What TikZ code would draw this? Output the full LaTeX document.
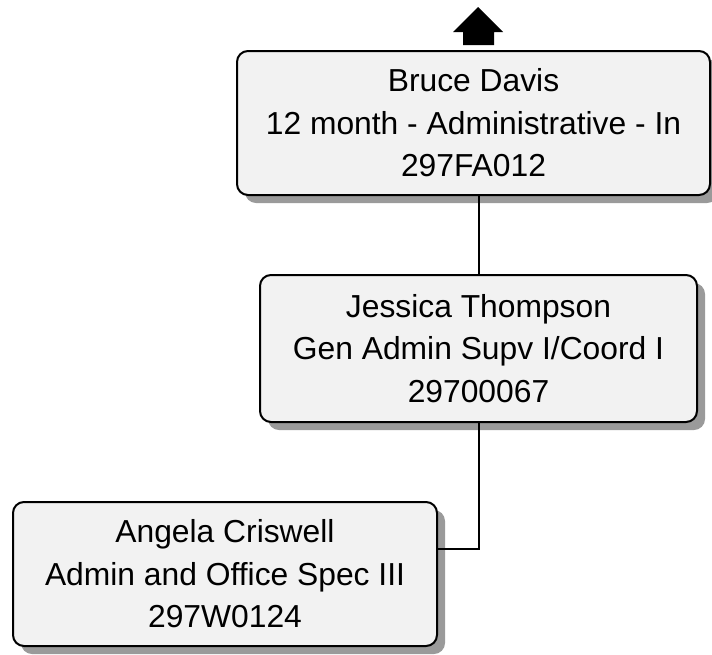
\documentclass[tikz,border=0pt]{standalone}
\usepackage{fontspec}
\setmainfont{Liberation Sans}
\usepackage{tikz}
\usetikzlibrary{calc,positioning,shadows}
\definecolor{boxfill}{HTML}{F2F2F2}
\definecolor{boxshade}{HTML}{9A9A9A}

\begin{document}
\begin{tikzpicture}[x=1pt,y=-1pt,
    person/.style={draw,line width=2pt,rounded corners=11pt,fill=boxfill,
      inner sep=0pt,align=center,
      font=\fontsize{31.8}{42.5}\selectfont,
      drop shadow={shadow xshift=8pt,shadow yshift=-8pt,fill=boxshade,opacity=1}},
    link/.style={line width=2pt}]
    \useasboundingbox (0,0) rectangle (712,654);

    \node[person,minimum width=473pt,minimum height=144pt] (bd) at (473.5,123)
      {Bruce Davis\\12 month - Administrative - In\\297FA012};
    \node[person,minimum width=437pt,minimum height=147pt] (jt) at (478.5,348.5)
      {Jessica Thompson\\Gen Admin Supv I/Coord I\\29700067};
    \node[person,minimum width=424pt,minimum height=144pt] (ac) at (225,574)
      {Angela Criswell\\Admin and Office Spec III\\297W0124};

    % more levels above
    \fill (453,32) -- (478,7) -- (503,32) -- (494,32) -- (494,45)
      -- (463,45) -- (463,32) -- cycle;

    \coordinate (elbow) at (479,549);
    \draw[link] (jt.north) -- (jt.north |- bd.south);
    \draw[link] (jt.south) -- (jt.south |- elbow) -- (ac.east |- elbow);

  \end{tikzpicture}
\end{document}
